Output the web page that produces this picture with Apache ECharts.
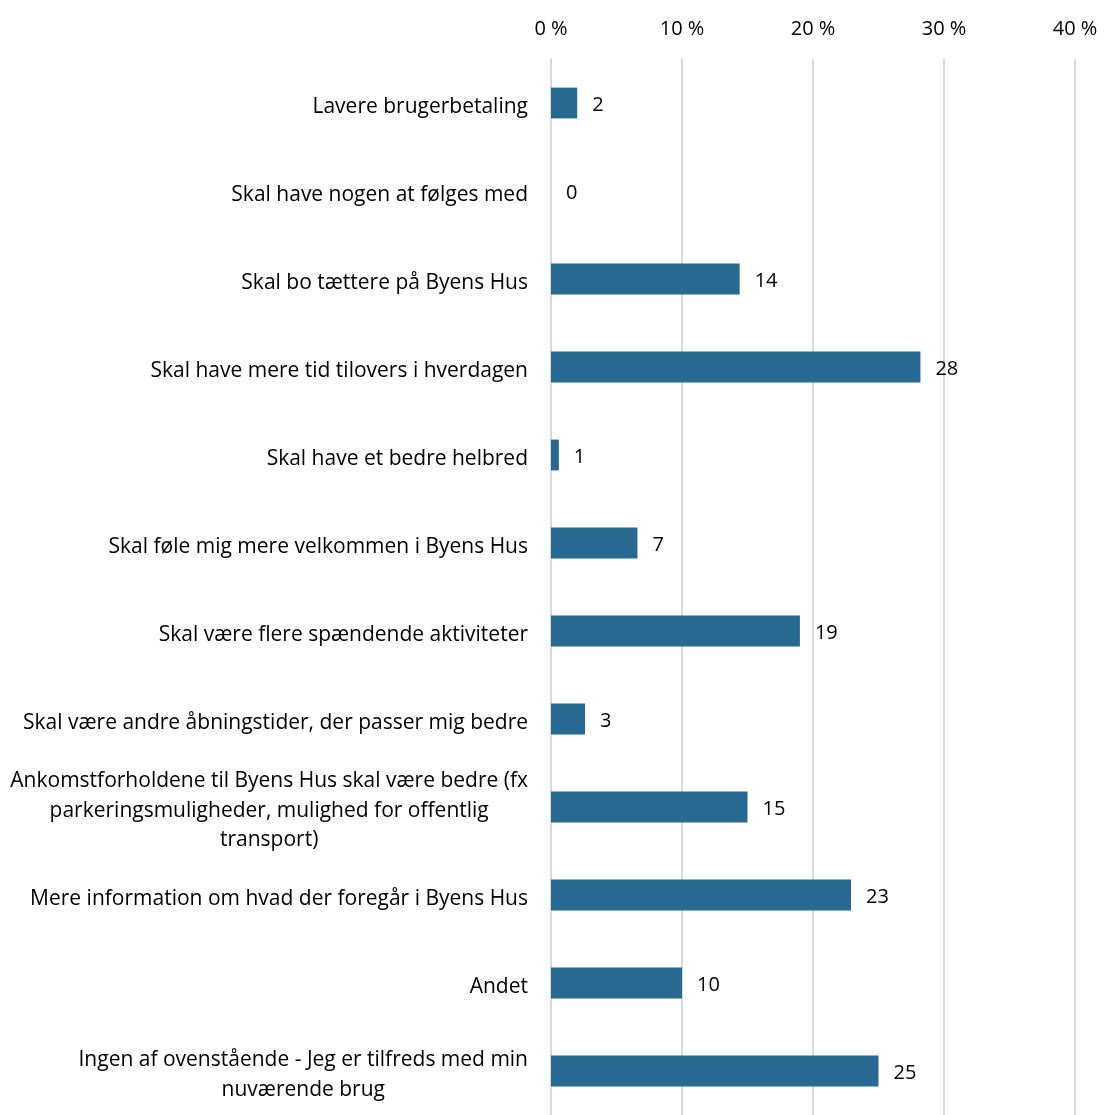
<!DOCTYPE html>
<html>
<head>
<meta charset="utf-8">
<script src="https://cdn.jsdelivr.net/npm/echarts@6/dist/echarts.min.js"></script>
<style>
html,body{margin:0;padding:0;background:#fff;}
#chart{width:1104px;height:1115px;}
</style>
</head>
<body>
<div id="chart"></div>
<script>
const categories = [
  'Lavere brugerbetaling',
  'Skal have nogen at følges med',
  'Skal bo tættere på Byens Hus',
  'Skal have mere tid tilovers i hverdagen',
  'Skal have et bedre helbred',
  'Skal føle mig mere velkommen i Byens Hus',
  'Skal være flere spændende aktiviteter',
  'Skal være andre åbningstider, der passer mig bedre',
  'Ankomstforholdene til Byens Hus skal være bedre (fx\nparkeringsmuligheder, mulighed for offentlig\ntransport)',
  'Mere information om hvad der foregår i Byens Hus',
  'Andet',
  'Ingen af ovenstående - Jeg er tilfreds med min\nnuværende brug'
];
const values = [2.0, 0, 14.4, 28.2, 0.6, 6.6, 19.0, 2.6, 15.0, 22.9, 10.0, 25.0];
const valueLabels = ['2', '0', '14', '28', '1', '7', '19', '3', '15', '23', '10', '25'];
const tickLabelSuffix = ' %';

const chart = echarts.init(document.getElementById('chart'), null, {renderer: 'canvas'});
const FONT = 'Open Sans';
chart.setOption({
  animation: false,
  backgroundColor: '#ffffff',
  grid: {left: 551, right: 29, top: 59, height: 1063, containLabel: false},
  xAxis: {
    type: 'value',
    position: 'top',
    min: 0, max: 40, interval: 10,
    axisLine: {show: false},
    axisTick: {show: false},
    axisLabel: {
      formatter: v => v + tickLabelSuffix,
      color: '#000', fontFamily: FONT, fontSize: 20, margin: 20
    },
    splitLine: {show: true, lineStyle: {color: '#d9d9d9', width: 2}}
  },
  yAxis: {
    type: 'category',
    inverse: true,
    data: categories,
    axisLine: {show: false},
    axisTick: {show: false},
    axisLabel: {
      margin: 23,
      color: '#000',
      fontFamily: FONT,
      fontSize: 21,
      lineHeight: 29.5,
      padding: [8, 0, 0, 0],
      formatter: v => v.split('\n').map(l => '{c|' + l + '}').join('\n'),
      rich: {c: {align: 'center', fontFamily: FONT, fontSize: 21, lineHeight: 29.5, color: '#000'}}
    }
  },
  series: [{
    type: 'bar',
    data: values,
    barWidth: '35%',
    itemStyle: {color: '#276991'},
    label: {
      show: true,
      position: 'right',
      distance: 15,
      offset: [0, 2],
      color: '#000',
      fontFamily: FONT,
      fontSize: 20,
      formatter: p => valueLabels[p.dataIndex]
    }
  }]
});
</script>
</body>
</html>
